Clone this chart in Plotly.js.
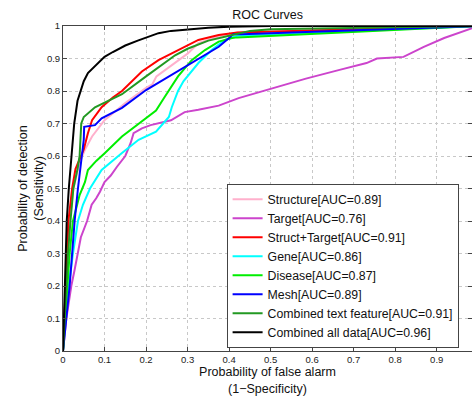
<!DOCTYPE html>
<html><head><meta charset="utf-8">
<script src="https://cdn.plot.ly/plotly-3.0.1.min.js"></script>
<style>html,body{margin:0;padding:0;background:#fff;}#chart{width:472px;height:405px;}</style>
</head><body><div id="chart"></div>
<script>
const seriesNames = ["Structure[AUC=0.89]","Target[AUC=0.76]","Struct+Target[AUC=0.91]","Gene[AUC=0.86]","Disease[AUC=0.87]","Mesh[AUC=0.89]","Combined text feature[AUC=0.91]","Combined all data[AUC=0.96]"];

const structureX = [0,0.003,0.007,0.011,0.016,0.025,0.04,0.053,0.07,0.1,0.15,0.2,0.215,0.225,0.268,0.3,0.326,0.38,0.42,1];
const structureY = [0,0.1,0.2,0.3,0.4,0.5,0.58,0.62,0.66,0.71,0.763,0.81,0.82,0.845,0.886,0.915,0.947,0.97,0.98,1];

const targetX = [0,0.004,0.008,0.014,0.02,0.028,0.036,0.043,0.058,0.069,0.08,0.089,0.1,0.115,0.13,0.15,0.163,0.17,0.19,0.211,0.26,0.293,0.326,0.375,0.423,0.502,0.585,0.666,0.731,0.756,0.82,0.869,0.918,1];
const targetY = [0,0.05,0.1,0.15,0.2,0.25,0.3,0.35,0.4,0.45,0.47,0.49,0.52,0.54,0.567,0.6,0.64,0.67,0.685,0.695,0.71,0.735,0.742,0.755,0.778,0.808,0.838,0.865,0.886,0.9,0.905,0.936,0.963,1];

const structTargetX = [0,0.003,0.006,0.009,0.013,0.022,0.03,0.04,0.05,0.06,0.07,0.093,0.12,0.142,0.19,0.23,0.268,0.3,0.326,0.375,0.42,1];
const structTargetY = [0,0.1,0.2,0.3,0.4,0.5,0.56,0.59,0.62,0.67,0.71,0.75,0.78,0.8,0.86,0.895,0.92,0.94,0.957,0.972,0.98,1];

const geneX = [0,0.006,0.014,0.024,0.036,0.048,0.065,0.08,0.093,0.142,0.182,0.224,0.24,0.255,0.262,0.277,0.29,0.326,0.358,0.39,0.42,1];
const geneY = [0,0.1,0.2,0.3,0.4,0.45,0.5,0.53,0.557,0.609,0.65,0.675,0.7,0.72,0.75,0.8,0.83,0.886,0.926,0.957,0.97,1];

const diseaseX = [0,0.005,0.01,0.016,0.024,0.04,0.053,0.06,0.08,0.101,0.142,0.182,0.224,0.244,0.26,0.277,0.31,0.342,0.375,0.407,0.42,1];
const diseaseY = [0,0.1,0.2,0.3,0.4,0.48,0.52,0.557,0.585,0.609,0.66,0.7,0.74,0.78,0.81,0.845,0.895,0.926,0.952,0.963,0.965,1];

const meshX = [0,0.002,0.008,0.016,0.022,0.028,0.036,0.045,0.05,0.051,0.077,0.093,0.142,0.2,0.268,0.326,0.375,0.4,0.41,0.43,1];
const meshY = [0,0.03,0.1,0.2,0.3,0.4,0.5,0.6,0.65,0.69,0.695,0.716,0.748,0.803,0.855,0.9,0.936,0.963,0.975,0.975,1];

const textX = [0,0.004,0.008,0.012,0.018,0.025,0.035,0.04,0.044,0.05,0.077,0.1,0.142,0.2,0.27,0.3,0.35,0.4,0.45,0.5,1];
const textY = [0,0.1,0.2,0.3,0.4,0.5,0.56,0.6,0.7,0.72,0.75,0.765,0.79,0.845,0.91,0.93,0.955,0.97,0.985,0.99,1];

const allX = [0,0.002,0.004,0.006,0.009,0.014,0.02,0.027,0.035,0.042,0.05,0.06,0.075,0.09,0.1,0.12,0.15,0.18,0.2,0.23,0.26,0.3,0.35,0.4,0.5,1];
const allY = [0,0.1,0.2,0.3,0.4,0.5,0.6,0.7,0.77,0.8,0.83,0.855,0.875,0.895,0.905,0.92,0.94,0.955,0.965,0.978,0.985,0.99,0.995,0.998,1,1];

const xs = [structureX,targetX,structTargetX,geneX,diseaseX,meshX,textX,allX];
const ys = [structureY,targetY,structTargetY,geneY,diseaseY,meshY,textY,allY];
const colors = ["#ffb0cc","#cc44cc","#ff0000","#00ffff","#00ee00","#0000ff","#229922","#000000"];

const traces = seriesNames.map((n,i)=>({
  x: xs[i], y: ys[i], name: n, type: 'scatter', mode: 'lines',
  line: {color: colors[i], width: 2}
}));

const axisCommon = {
  showgrid: true, gridcolor: '#c8c8c8', griddash: 'dot', gridwidth: 1,
  zeroline: false, showline: true, linecolor: '#444', linewidth: 1, mirror: 'ticks',
  ticks: 'inside', ticklen: 4, tickcolor: '#444', dtick: 0.1, tick0: 0,
  tickfont: {family: 'Liberation Sans, Arial, sans-serif', size: 9.5, color: '#222'}
};

const layout = {
  width: 472, height: 405,
  margin: {l: 63, r: 0, t: 26, b: 54},
  paper_bgcolor: '#fff', plot_bgcolor: '#fff',
  font: {family: 'Liberation Sans, Arial, sans-serif', color: '#111'},
  title: {text: 'ROC Curves', font: {size: 12.5, color: '#111'}, x: 0.567, xanchor: 'center', y: 0.963, yanchor: 'middle'},
  xaxis: Object.assign({}, axisCommon, {range: [0, 0.985],
    title: {text: 'Probability of false alarm<br>(1\u2212Specificity)', font: {size: 12.5}, standoff: 1}}),
  yaxis: Object.assign({}, axisCommon, {range: [0, 1],
    title: {text: 'Probability of detection<br>(Sensitivity)', font: {size: 12.5}, standoff: 0}}),
  showlegend: true,
  legend: {x: 0.40, y: 0.515, xanchor: 'left', yanchor: 'top', bgcolor: '#fff',
    bordercolor: '#444', borderwidth: 1, font: {size: 12.3, color: '#111'}, tracegroupgap: 0}
};

Plotly.newPlot('chart', traces, layout, {staticPlot: true, displayModeBar: false});
</script></body></html>
